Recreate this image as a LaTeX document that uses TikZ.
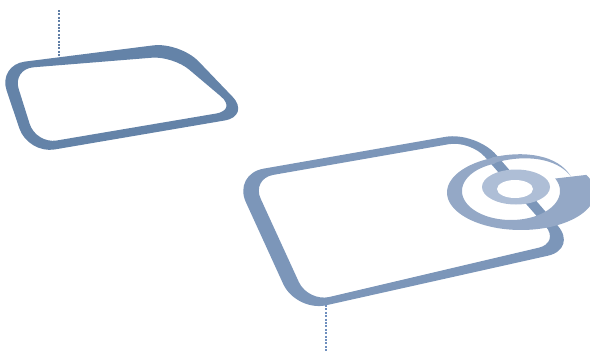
\documentclass[tikz,border=0pt]{standalone}
\definecolor{cA}{RGB}{100,131,168}
\definecolor{cB}{RGB}{124,150,185}
\definecolor{cR}{RGB}{148,168,198}
\definecolor{cS}{RGB}{174,190,214}
\definecolor{cD1}{RGB}{96,126,165}
\definecolor{cD2}{RGB}{111,143,190}
\begin{document}
\begin{tikzpicture}[x=1pt,y=-1pt,
  dotline/.style={line width=2.6pt, dash pattern=on 2pt off 1.4pt}]
\useasboundingbox (0,0) rectangle (590,351);
% upper frame
\fill[cA, even odd rule, rounded corners=27pt]
  (-2,65) -- (180,42) -- (251,116) -- (28,154) -- cycle
  [rounded corners=21pt]
  (12.4,69) -- (173,56) -- (237,110) -- (36,144) -- cycle;
% lower frame
\fill[cB, even odd rule, rounded corners=31pt]
  (233,174) -- (476,131.5) -- (578,249) -- (296,312) -- cycle
  [rounded corners=22pt]
  (251.5,178.7) -- (470.5,140.4) -- (560,242.7) -- (308,302) -- cycle;
% dotted leaders
\coordinate (d1a) at (59,10);
\coordinate (d1b) at (59,57);
\coordinate (d2a) at (326,305);
\coordinate (d2b) at (326,351);
\draw[cD1, dotline] (d1a) -- (d1b);
\draw[cD2, dotline] (d2a) -- (d2b);
% big open ring
\fill[cR] plot[domain=102:388, samples=90] ({521+74*cos(\x)},{192.5-37.5*sin(\x)})
  -- plot[domain=385.5:110, samples=90] ({511+49*cos(\x)},{191-29*sin(\x)}) -- cycle;
% thin tapering arc
\fill[cR] (492,157.5) .. controls (525,150) and (558,155) .. (571,176.5)
  .. controls (557,158) and (525,153.5) .. (492,163.5) -- cycle;
% small ring
\fill[cS] (516,187) ellipse [x radius=34pt, y radius=17.5pt];
\fill[white] (515,189) ellipse [x radius=18pt, y radius=9pt];
\end{tikzpicture}
\end{document}
